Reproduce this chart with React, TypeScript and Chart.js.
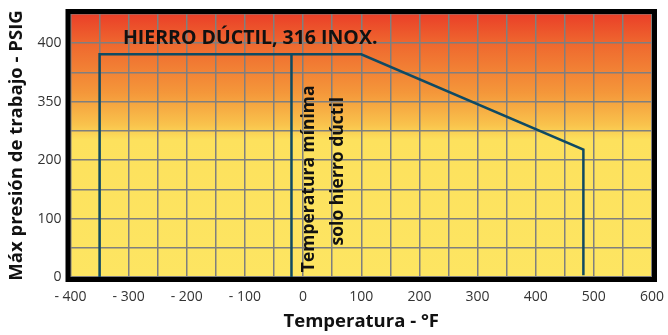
import React, { useEffect, useRef } from "react";
import { Chart, registerables } from "chart.js";

Chart.register(...registerables);

// Temperature (°F) / pressure (axis units) of the rating envelope
const envelopeTemp = [-350, -350, 100, 482, 482];
const envelopePress = [0, 381, 381, 218, 3];
// Minimum temperature line for ductile iron only
const minTempTemp = [-20, -20];
const minTempPress = [0, 381];

// Axis ranges and tick labels
const xMin = -400;
const xMax = 600;
const xStep = 50;
const xTickLabels: Record<number, string> = {
  [-400]: "- 400", [-300]: "- 300", [-200]: "- 200", [-100]: "- 100",
  0: "0", 100: "100", 200: "200", 300: "300", 400: "400", 500: "500", 600: "600",
};
const yMin = 0;
const yMax = 450;
const yStep = 50;
const yTickLabels: Record<number, string> = { 0: "0", 100: "100", 200: "200", 300: "350", 400: "400" };

const xTitle = "Temperatura - °F";
const yTitle = "Máx presión de trabajo - PSIG";
const seriesTitle = "HIERRO DÚCTIL, 316 INOX.";
const minTempNote = ["Temperatura mínima", "solo hierro dúctil"];
// annotation anchor positions in data units
const seriesTitlePos = { x: -91, y: 409 };
const minTempNotePos = [{ x: 10, y: 168 }, { x: 60, y: 181 }];

const FONT = "'Open Sans', 'DejaVu Sans', sans-serif";
const LINE = "#0f4a63";

const bgPlugin = {
  id: "bgFrame",
  beforeDraw(chart: any) {
    const { ctx, chartArea: a } = chart;
    ctx.save();
    const g = ctx.createLinearGradient(0, a.top, 0, a.bottom);
    g.addColorStop(0, "#ea3f28");
    g.addColorStop(0.12, "#ef6a2f");
    g.addColorStop(0.3, "#f4973a");
    g.addColorStop(0.42, "#f9c24c");
    g.addColorStop(0.48, "#fde15d");
    g.addColorStop(1, "#fde562");
    ctx.fillStyle = g;
    ctx.fillRect(a.left, a.top, a.right - a.left, a.bottom - a.top);
    ctx.restore();
  },
  afterDatasetsDraw(chart: any) {
    const { ctx, chartArea: a, scales } = chart;
    const xs = scales.x;
    const ys = scales.y;
    ctx.save();
    ctx.fillStyle = "#111";
    ctx.textAlign = "center";
    ctx.textBaseline = "middle";
    ctx.font = `bold 19.5px ${FONT}`;
    ctx.fillText(seriesTitle, xs.getPixelForValue(seriesTitlePos.x), ys.getPixelForValue(seriesTitlePos.y));
    ctx.font = `bold 17.5px ${FONT}`;
    minTempNote.forEach((t, i) => {
      ctx.save();
      ctx.translate(xs.getPixelForValue(minTempNotePos[i].x), ys.getPixelForValue(minTempNotePos[i].y));
      ctx.rotate(-Math.PI / 2);
      ctx.fillText(t, 0, 0);
      ctx.restore();
    });
    ctx.strokeStyle = "#000";
    ctx.lineWidth = 5;
    ctx.strokeRect(a.left - 2.5, a.top - 2.5, a.right - a.left + 5, a.bottom - a.top + 5);
    ctx.restore();
  },
};

export default function App() {
  const ref = useRef<HTMLCanvasElement>(null);
  useEffect(() => {
    if (!ref.current) return;
    const chart = new Chart(ref.current, {
      type: "line",
      data: {
        datasets: [
          {
            data: envelopeTemp.map((x, i) => ({ x, y: envelopePress[i] })),
            borderColor: LINE,
            borderWidth: 2.5,
            pointRadius: 0,
            fill: false,
            tension: 0,
          },
          {
            data: minTempTemp.map((x, i) => ({ x, y: minTempPress[i] })),
            borderColor: LINE,
            borderWidth: 2.5,
            pointRadius: 0,
            fill: false,
            tension: 0,
          },
        ],
      },
      plugins: [bgPlugin],
      options: {
        animation: false,
        responsive: false,
        layout: { padding: { left: 0, right: 16, top: 14, bottom: 0 } },
        plugins: { legend: { display: false }, tooltip: { enabled: false } },
        scales: {
          x: {
            type: "linear",
            min: xMin,
            max: xMax,
            border: { display: false },
            grid: { color: "#7f7f7f", lineWidth: 1.5, drawTicks: false },
            ticks: {
              stepSize: xStep,
              autoSkip: false,
              maxRotation: 0,
              padding: 12,
              color: "#333",
              font: { family: FONT, size: 14 },
              callback: (v: any) => xTickLabels[v as number] ?? "",
            },
            title: {
              display: true,
              text: xTitle,
              color: "#111",
              font: { family: FONT, size: 18.5, weight: "bold" },
              padding: { top: 4, bottom: 2 },
            },
            afterFit: (s: any) => {
              s.height = 58;
              s.paddingLeft = 0;
              s.paddingRight = 0;
            },
          },
          y: {
            type: "linear",
            min: yMin,
            max: yMax,
            border: { display: false },
            grid: { color: "#7f7f7f", lineWidth: 1.5, drawTicks: false },
            ticks: {
              stepSize: yStep,
              autoSkip: false,
              padding: 9,
              color: "#333",
              font: { family: FONT, size: 14 },
              callback: (v: any) => yTickLabels[v as number] ?? "",
            },
            title: {
              display: true,
              text: yTitle,
              color: "#111",
              font: { family: FONT, size: 18.5, weight: "bold" },
              padding: { top: 6, bottom: 0 },
            },
            afterFit: (s: any) => {
              s.width = 70.5;
              s.paddingTop = 0;
              s.paddingBottom = 0;
            },
          },
        },
      },
    });
    return () => chart.destroy();
  }, []);
  return (
    <div style={{ position: "absolute", left: 0, top: 0, width: 668, height: 335, background: "#fff" }}>
      <canvas ref={ref} width={668} height={335} />
    </div>
  );
}
